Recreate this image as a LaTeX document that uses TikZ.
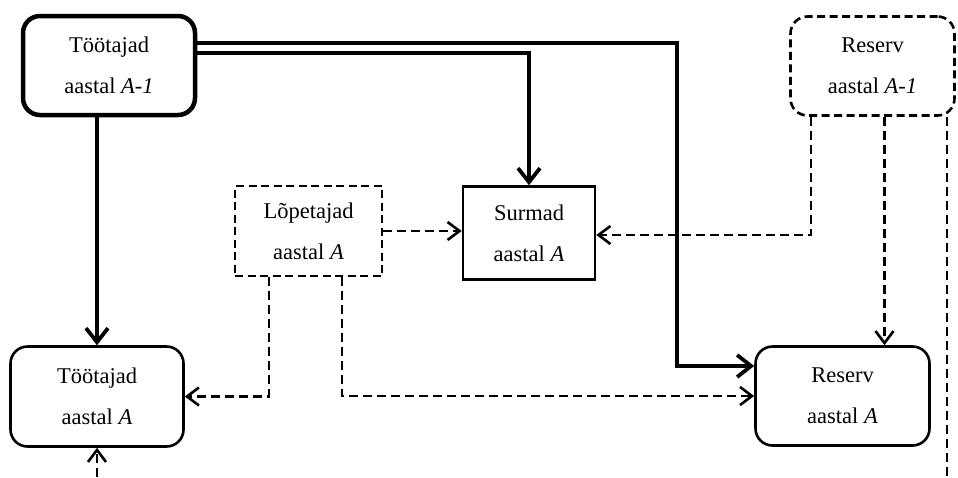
\documentclass[tikz,border=0pt]{standalone}
\usepackage{fontspec}
\setmainfont{Liberation Serif}
\usetikzlibrary{arrows.meta}

\begin{document}
\begin{tikzpicture}[x=1pt, y=-1pt,
    box/.style={draw, line width=2.6pt, align=center, inner sep=0pt,
        font=\fontsize{22.5}{41}\selectfont},
    rbox/.style={box, rounded corners=17pt},
    dbox/.style={dash pattern=on 8pt off 4.5pt},
    flow/.style={line width=3.8pt, -{Straight Barb[length=14pt,width=22pt]}},
    dflow/.style={line width=2.6pt, dash pattern=on 9pt off 5pt,
        -{Straight Barb[length=12pt,width=18pt]}}]
    \useasboundingbox (0,0) rectangle (958,477);

    \node [rbox, line width=4.5pt, minimum width=172pt, minimum height=99pt] (tA1) at (109,65.5) {Töötajad\\aastal \textit{A-1}};
    \node [rbox, dbox, minimum width=164pt, minimum height=99pt] (rA1) at (872.5,66) {Reserv\\aastal \textit{A-1}};
    \node [box, dbox, minimum width=147pt, minimum height=90pt] (lop) at (308.5,231) {Lõpetajad\\aastal \textit{A}};
    \node [box, minimum width=132pt, minimum height=93pt] (sur) at (529,233) {Surmad\\aastal \textit{A}};
    \node [rbox, minimum width=173pt, minimum height=100pt] (tA) at (97,396.5) {Töötajad\\aastal \textit{A}};
    \node [rbox, minimum width=174pt, minimum height=99pt] (rA) at (842.5,396) {Reserv\\aastal \textit{A}};
    \coordinate (bot) at (97,477);
    \coordinate (edge) at (947,477);

    % jooned aastast A-1
    \draw [flow] (tA.north |- tA1.south) -- (tA.north);
    \draw [flow] ([yshift=22.5pt]tA1.east) -- ++(480,0) |- ([yshift=30pt]rA.west);
    \draw [flow] ([yshift=12.5pt]tA1.east) -| (sur.north);

    % katkendjooned
    \draw [dflow] (lop.east) -- (lop.east -| sur.west);
    \draw [dflow] ([xshift=-39.5pt]lop.south) |- (tA.east);
    \draw [dflow] ([xshift=33.5pt]lop.south) |- (rA.west);
    \draw [dflow] ([xshift=-61.5pt]rA1.south) |- ([yshift=-2pt]sur.east);
    \draw [dflow] ([xshift=12pt]rA1.south) -- ([xshift=12pt]rA1.south |- rA.north);
    \draw [dflow, -] ([xshift=74.5pt]rA1.south) -- (edge);
    \draw [dflow] (bot) -- (tA.south);
\end{tikzpicture}
\end{document}
